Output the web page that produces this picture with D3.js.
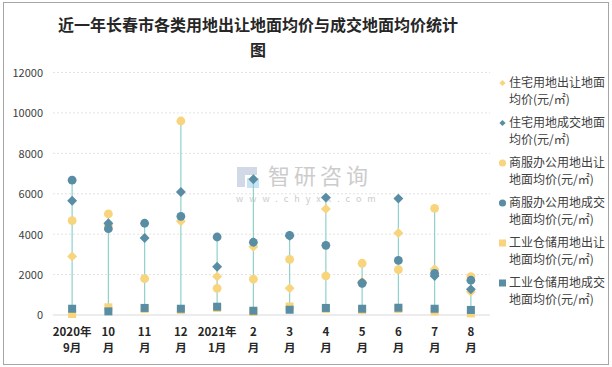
<!DOCTYPE html>
<html><head><meta charset="utf-8">
<script src="https://cdn.jsdelivr.net/npm/d3@7"></script>
<style>body{margin:0;background:#fff;}svg{display:block;}</style>
</head><body>
<svg id="c" width="612" height="367"></svg>
<script>
const categories = [["2020年","9月"],["10","月"],["11","月"],["12","月"],["2021年","1月"],["2","月"],["3","月"],["4","月"],["5","月"],["6","月"],["7","月"],["8","月"]];
const resSell  = [2900, 4450, null, 4640, 1900, 3380, 1320, 5250, 1650, 4060, 2260, 1150];
const resDeal  = [5650, 4540, 3810, 6090, 2390, 6720, 3920, 5810, 1600, 5760, 1930, 1270];
const comSell  = [4670, 5000, 1800, 9600, 1320, 1770, 2750, 1930, 2560, 2240, 5280, 1900];
const comDeal  = [6670, 4270, 4540, 4885, 3860, 3600, 3940, 3450, 1570, 2700, 2060, 1720];
const indSell  = [50, 380, 300, 250, 350, 150, 420, 300, 250, 300, 180, 80];
const indDeal  = [310, 180, 350, 310, 410, 210, 260, 350, 310, 360, 310, 250];
const yTicks = [0, 2000, 4000, 6000, 8000, 10000, 12000];
const seriesNames = ["住宅用地出让地面均价(元/㎡)","住宅用地成交地面均价(元/㎡)","商服办公用地出让地面均价(元/㎡)","商服办公用地成交地面均价(元/㎡)","工业仓储用地出让地面均价(元/㎡)","工业仓储用地成交地面均价(元/㎡)"];

const YEL = "#f8d47c", BLU = "#598da4";
const series = [
  {name: seriesNames[0], vals: resSell, color: YEL, shape: "diamond"},
  {name: seriesNames[1], vals: resDeal, color: BLU, shape: "diamond"},
  {name: seriesNames[2], vals: comSell, color: YEL, shape: "circle"},
  {name: seriesNames[3], vals: comDeal, color: BLU, shape: "circle"},
  {name: seriesNames[4], vals: indSell, color: YEL, shape: "square"},
  {name: seriesNames[5], vals: indDeal, color: BLU, shape: "square"}
];

const svg = d3.select("#c");
const FONT = "'Noto Sans CJK SC','Microsoft YaHei',sans-serif";
svg.append("rect").attr("x",3.5).attr("y",2.5).attr("width",605).attr("height",362)
  .attr("fill","#fff").attr("stroke","#a6a6a6").attr("stroke-width",1);

// title
svg.append("text").attr("x",258).attr("y",31).attr("text-anchor","middle")
  .attr("font-family",FONT).attr("font-weight","bold").attr("font-size",16).attr("fill","#262626")
  .text("近一年长春市各类用地出让地面均价与成交地面均价统计");
svg.append("text").attr("x",258).attr("y",56).attr("text-anchor","middle")
  .attr("font-family",FONT).attr("font-weight","bold").attr("font-size",16).attr("fill","#262626")
  .text("图");

const x = d3.scaleBand().domain(d3.range(categories.length)).range([54, 489]);
const y = d3.scaleLinear().domain([0, 12000]).range([315, 72.5]);
const cx = i => x(i) + x.bandwidth()/2;

// gridlines
svg.append("g").selectAll("line").data(yTicks.filter(t=>t>0)).join("line")
  .attr("x1",53).attr("x2",490).attr("y1",d=>y(d)).attr("y2",d=>y(d))
  .attr("stroke","#e3e3e3").attr("stroke-dasharray","2,2");

// y axis
const yAxis = d3.axisLeft(y).tickValues(yTicks).tickSize(0).tickPadding(0).tickFormat(d3.format("d"));
const gy = svg.append("g").attr("transform","translate(43,0)").call(yAxis);
gy.select(".domain").remove();
gy.selectAll("text").attr("font-family",FONT).attr("font-size",11).attr("fill","#404040").attr("dy","0.35em");

// baseline
svg.append("line").attr("x1",53).attr("x2",490).attr("y1",y(0)).attr("y2",y(0))
  .attr("stroke","#d9d9d9").attr("stroke-width",1.2);

// x labels
const gx = svg.append("g");
categories.forEach((c,i)=>{
  const t = gx.append("text").attr("x",cx(i)).attr("text-anchor","middle")
    .attr("font-family",FONT).attr("font-size",11.5).attr("font-weight","bold").attr("fill","#262626");
  t.append("tspan").attr("x",cx(i)).attr("y",336).text(c[0]);
  t.append("tspan").attr("x",cx(i)).attr("y",352).text(c[1]);
});

// watermark
const wm = svg.append("g").attr("opacity",0.85);
wm.append("rect").attr("x",237).attr("y",167).attr("width",8).attr("height",20).attr("fill","#c9d3e3");
wm.append("rect").attr("x",245).attr("y",167).attr("width",12).attr("height",8).attr("fill","#c9d3e3");
wm.append("rect").attr("x",247).attr("y",178).attr("width",12).attr("height",10).attr("fill","#bfe0f3");
wm.append("text").attr("x",268).attr("y",184).attr("font-family",FONT).attr("font-size",22)
  .attr("fill","#c4c4c4").attr("letter-spacing","4").text("智研咨询");
wm.append("text").attr("x",236).attr("y",202).attr("font-family",FONT).attr("font-size",9)
  .attr("fill","#c4c4c4").attr("letter-spacing","6").text("www.chyxx.com");

// high-low lines
const hl = svg.append("g");
categories.forEach((c,i)=>{
  const vs = series.map(s=>s.vals[i]).filter(v=>v!=null);
  hl.append("line").attr("x1",cx(i)).attr("x2",cx(i))
    .attr("y1",y(d3.max(vs))).attr("y2",y(d3.min(vs)))
    .attr("stroke","#8fd1cd").attr("stroke-width",1.2);
});

function drawShape(g, shape, px, py, color, s){
  if(shape==="circle") g.append("circle").attr("cx",px).attr("cy",py).attr("r",s*0.55).attr("fill",color);
  else if(shape==="square") g.append("rect").attr("x",px-s/2).attr("y",py-s/2).attr("width",s).attr("height",s).attr("fill",color);
  else g.append("path").attr("d",`M${px},${py-s*0.62}L${px+s*0.62},${py}L${px},${py+s*0.62}L${px-s*0.62},${py}Z`).attr("fill",color);
}

// markers
series.forEach(s=>{
  const g = svg.append("g");
  s.vals.forEach((v,i)=>{ if(v!=null) drawShape(g, s.shape, cx(i), y(v), s.color, 8); });
});

// legend
const lg = svg.append("g");
series.forEach((s,k)=>{
  const y0 = 83 + k*40;
  const sz = s.shape==="diamond"?5:(s.shape==="circle"?6.5:7);
  drawShape(lg, s.shape, 502.5, y0, s.color, sz);
  const nm = s.name;
  const cut = 8;
  const t = lg.append("text").attr("font-family",FONT).attr("font-size",12).attr("fill","#404040");
  t.append("tspan").attr("x",509).attr("y",y0+4).text(nm.slice(0,cut));
  t.append("tspan").attr("x",509).attr("y",y0+21).text(nm.slice(cut));
});
</script>
</body></html>
